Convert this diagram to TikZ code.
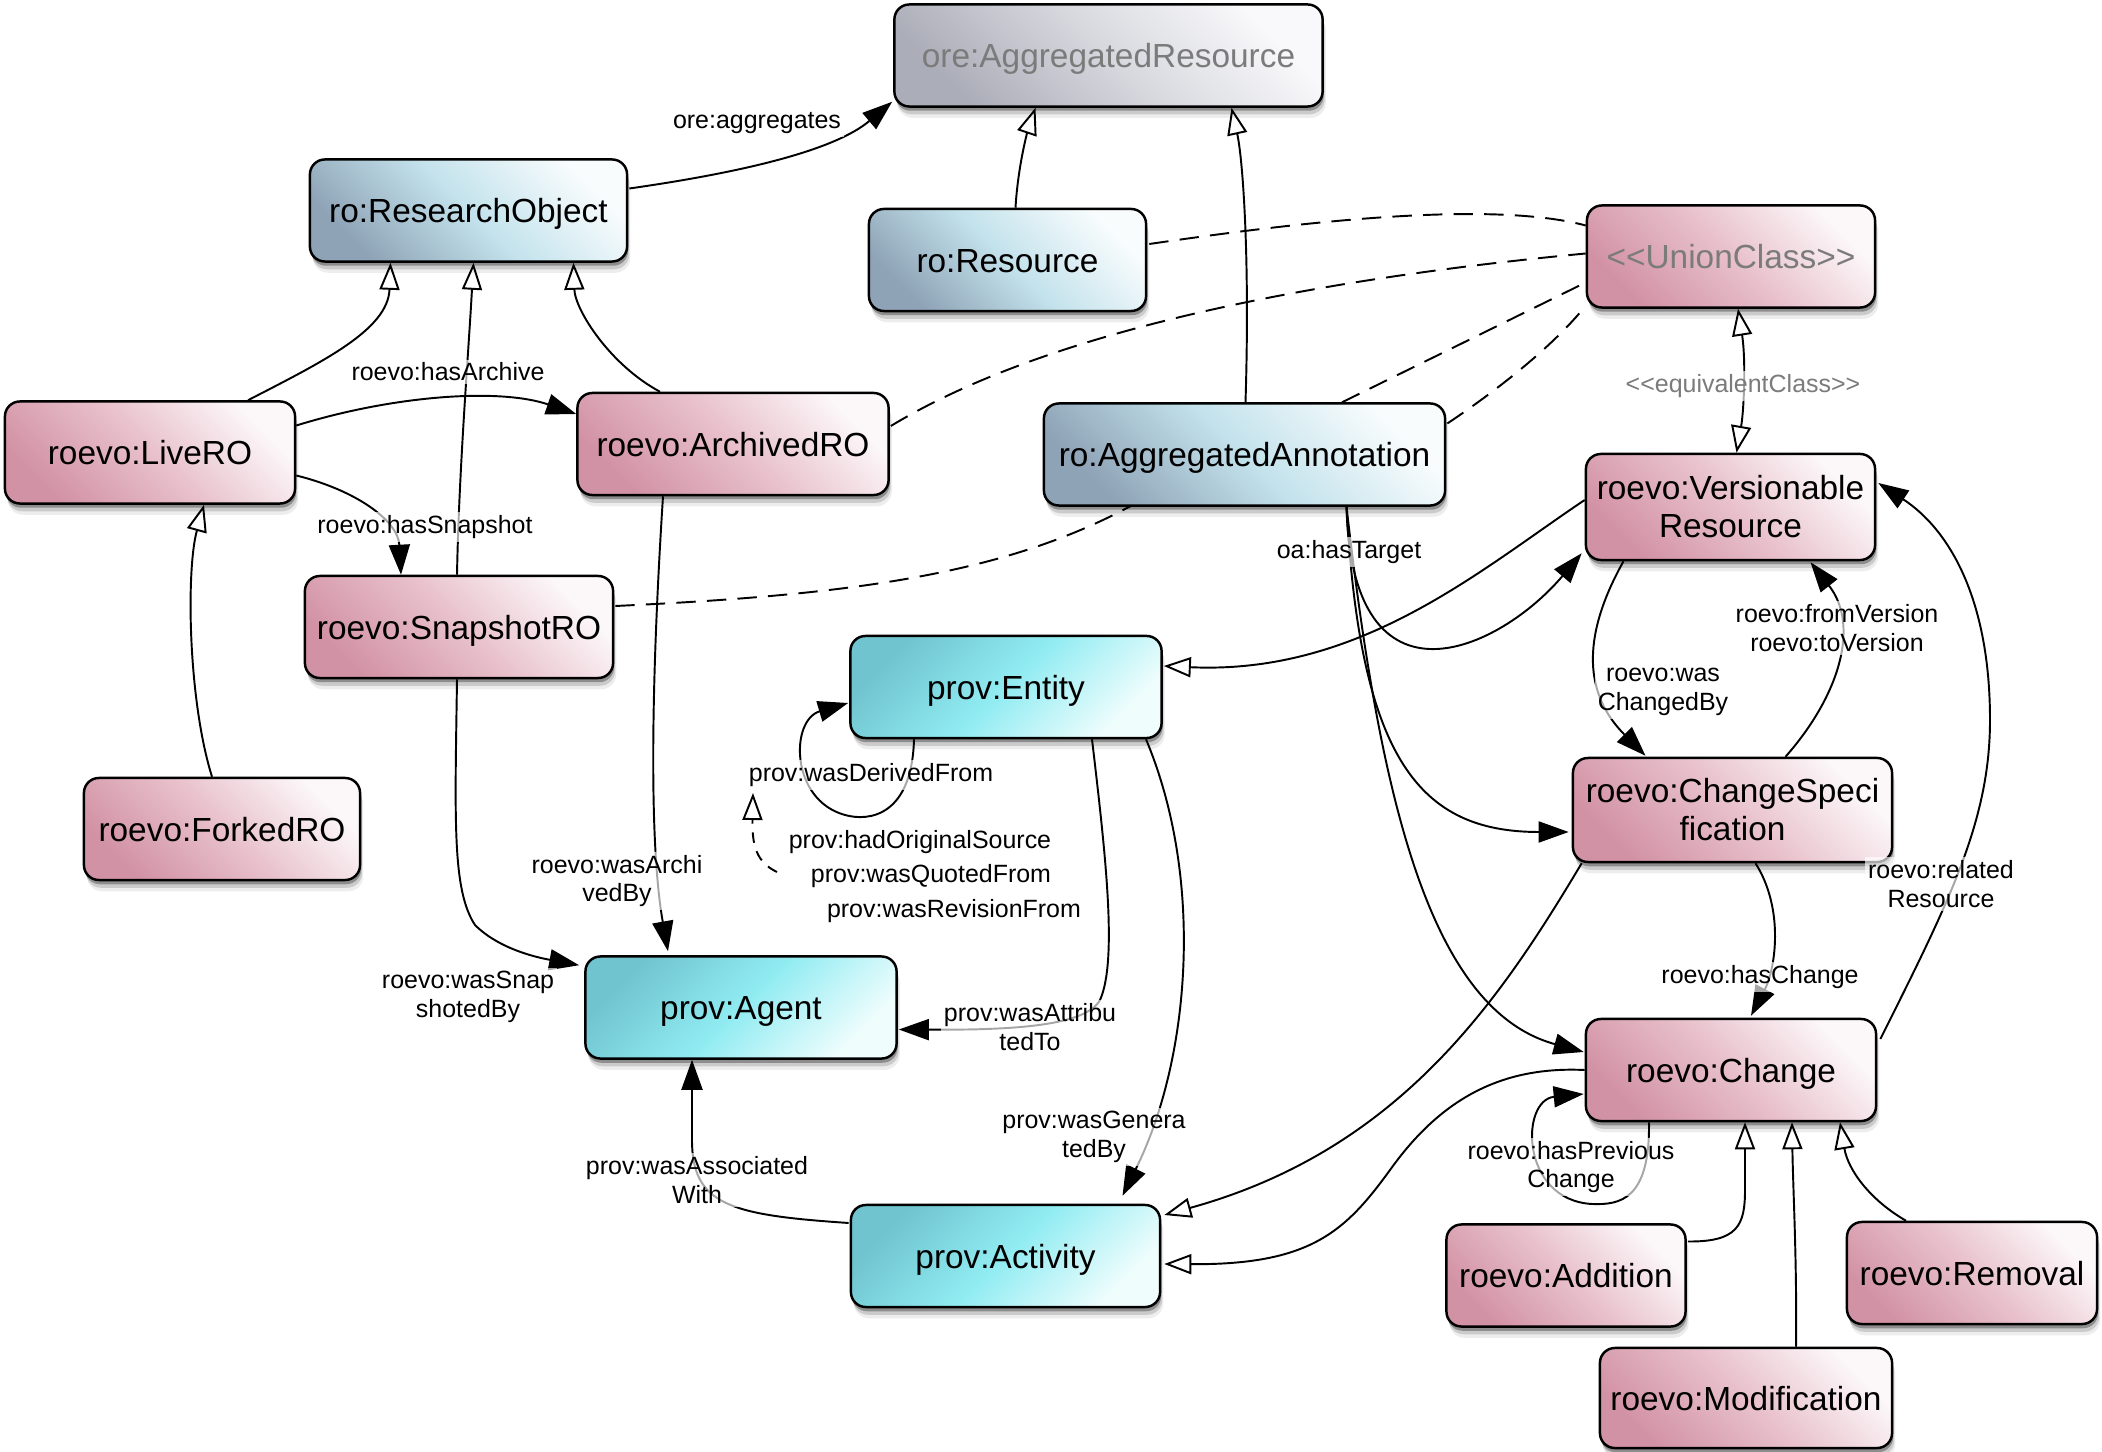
\documentclass[tikz,border=0pt]{standalone}
\usepackage{fontspec}
\setmainfont{Liberation Sans}
\usetikzlibrary{arrows.meta,calc,shadows}

% node fills
\definecolor{pinkD}{RGB}{210,146,165}
\definecolor{pinkM}{RGB}{232,192,204}
\definecolor{pinkL}{RGB}{252,248,249}
\definecolor{blueD}{RGB}{142,163,182}
\definecolor{blueM}{RGB}{195,226,236}
\definecolor{blueL}{RGB}{248,252,253}
\definecolor{grayD}{RGB}{171,173,184}
\definecolor{grayM}{RGB}{215,216,222}
\definecolor{grayL}{RGB}{249,249,251}
\definecolor{cyanD}{RGB}{112,196,207}
\definecolor{cyanM}{RGB}{145,236,242}
\definecolor{cyanL}{RGB}{240,253,253}
\definecolor{graytext}{RGB}{123,123,123}

\pgfdeclarelayer{back}
\pgfdeclarelayer{edges}
\pgfsetlayers{back,edges,main}

\begin{document}
\begin{tikzpicture}[x=0.01cm, y=-0.01cm,
  box/.style={draw=black, line width=0.7pt, rounded corners=0.15cm, inner sep=0pt,
    align=center, font=\fontsize{9.5pt}{10.8pt}\selectfont, minimum height=1.02cm,
    drop shadow={shadow xshift=0.3pt, shadow yshift=-1.2pt, opacity=0.30, fill=black},
    drop shadow={shadow xshift=0.6pt, shadow yshift=-2.2pt, opacity=0.14, fill=black},
    drop shadow={shadow xshift=0.9pt, shadow yshift=-3.2pt, opacity=0.07, fill=black}},
  oneline/.style={text height=0.86em, text depth=0.17em},
  pinkbox/.style={box, top color=pinkL, bottom color=pinkD, middle color=pinkM, shading angle=-45},
  bluebox/.style={box, oneline, top color=blueL, bottom color=blueD, middle color=blueM, shading angle=-45},
  graybox/.style={box, oneline, top color=grayL, bottom color=grayD, middle color=grayM, shading angle=-45, text=graytext},
  cyanbox/.style={box, oneline, top color=cyanD, bottom color=cyanL, middle color=cyanM, shading angle=45},
  edge/.style={draw=black, line width=0.55pt},
  arr/.style={edge, -{Triangle[length=0.3cm, width=0.21cm]}},
  gen/.style={edge, -{Triangle[length=0.27cm, width=0.2cm, fill=white]}},
  eqv/.style={edge, {Triangle[length=0.27cm, width=0.2cm, fill=white]}-{Triangle[length=0.27cm, width=0.2cm, fill=white]}},
  dashedge/.style={edge, dash pattern=on 5.5pt off 3.2pt},
  lbl/.style={font=\fontsize{7.1pt}{8.2pt}\selectfont, align=center, fill=white,
    fill opacity=0.65, text opacity=1, inner sep=0.03cm}
]
\begin{pgfonlayer}{back}
  \useasboundingbox[fill=white] (0,0) rectangle (2102,1452);
\end{pgfonlayer}

% ---- classes ----
\node[graybox, minimum width=4.28cm] (ore) at (1108.5,55.5) {ore:AggregatedResource};
\node[bluebox, minimum width=3.17cm] (ro) at (468.5,210.5) {ro:ResearchObject};
\node[bluebox, minimum width=2.77cm] (res) at (1007.5,260) {ro:Resource};
\node[pinkbox, oneline, minimum width=2.88cm, text=graytext] (union) at (1731,256.5) {<\kern0pt<UnionClass>\kern0pt>};
\node[pinkbox, oneline, minimum width=2.90cm] (live) at (150,452.5) {roevo:LiveRO};
\node[pinkbox, oneline, minimum width=3.11cm] (archived) at (733,444) {roevo:ArchivedRO};
\node[bluebox, minimum width=4.01cm] (annot) at (1244.5,454.5) {ro:AggregatedAnnotation};
\node[pinkbox, minimum width=2.89cm, minimum height=1.06cm] (versionable) at (1730.5,507) {roevo:Versionable\\Resource};
\node[pinkbox, oneline, minimum width=3.08cm] (snapshot) at (459,627) {roevo:SnapshotRO};
\node[cyanbox, minimum width=3.11cm] (entity) at (1006,687) {prov:Entity};
\node[pinkbox, oneline, minimum width=2.76cm] (forked) at (222,829) {roevo:ForkedRO};
\node[pinkbox, minimum width=3.19cm, minimum height=1.04cm] (changespec) at (1732.5,810) {roevo:ChangeSpeci\\fication};
\node[cyanbox, minimum width=3.11cm] (agent) at (741,1007.5) {prov:Agent};
\node[pinkbox, oneline, minimum width=2.90cm] (change) at (1731,1070) {roevo:Change};
\node[cyanbox, minimum width=3.09cm] (activity) at (1005.5,1256) {prov:Activity};
\node[pinkbox, oneline, minimum width=2.39cm] (addition) at (1566,1275.5) {roevo:Addition};
\node[pinkbox, oneline, minimum width=2.50cm] (removal) at (1972,1273) {roevo:Removal};
\node[pinkbox, oneline, minimum width=2.92cm, minimum height=1.00cm] (modification) at (1746,1398) {roevo:Modification};

\coordinate (subprops) at (777,872);
\coordinate (derivedlbl) at (753,793);

% ---- connectors ----
\begin{pgfonlayer}{edges}
  % aggregation
  \draw[arr] ($(ro.east)+(1,-22)$) .. controls (745,172) and (835,150) .. ($(ore.south west)+(-1,-6)$);
  % subclasses of ro:ResearchObject
  \draw[gen] ($(live.north)+(98,0)$) .. controls (322,362) and (388,330) .. ($(ro.south)+(-78,0)$);
  \draw[gen] ($(snapshot.north)+(-2,0)$) .. controls (459,470) and (468,360) .. ($(ro.south)+(5,0)$);
  \draw[gen] ($(archived.north)+(-73,0)$) .. controls (610,365) and (575,310) .. ($(ro.south)+(105,0)$);
  % live RO properties
  \draw[arr] ($(live.east)+(0,-27)$) .. controls (395,395) and (500,388) .. ($(archived.west)+(0,-30)$);
  \draw[arr] ($(live.east)+(0,23)$) .. controls (355,490) and (398,520) .. ($(snapshot.north)+(-58,0)$);
  \draw[gen] ($(forked.north)+(-10,0)$) .. controls (188,700) and (186,570) .. ($(live.south)+(54,0)$);
  % subclasses of ore:AggregatedResource
  \draw[gen] ($(res.north)+(8,0)$) .. controls (1018,165) and (1028,130) .. ($(ore.south)+(-73,0)$);
  \draw[gen] ($(annot.north)+(1,0)$) .. controls (1250,260) and (1243,160) .. ($(ore.south)+(123,0)$);
  % union members
  \draw[dashedge] ($(res.east)+(2,-16)$) .. controls (1300,222) and (1490,200) .. ($(union.west)+(0,-31)$);
  \draw[dashedge] ($(archived.east)+(1,-18)$) .. controls (1000,360) and (1200,290) .. ($(union.west)+(0,-3)$);
  \draw[dashedge] ($(snapshot.east)+(1,-21)$) .. controls (850,595) and (1000,575) .. (1127,508) -- ($(union.west)+(0,26)$);
  \draw[dashedge] ($(annot.east)+(1,-31)$) .. controls (1490,395) and (1550,350) .. ($(union.south west)+(0,-3)$);
  \draw[eqv] ($(union.south)+(7,0)$) .. controls (1746,360) and (1744,410) .. ($(versionable.north)+(6,0)$);
  % annotation targets
  \draw[arr] ($(annot.south)+(102,0)$) .. controls (1352,720) and (1500,650) .. ($(versionable.south west)+(-3,-8)$);
  \draw[arr] ($(annot.south)+(102,0)$) .. controls (1360,760) and (1420,832) .. ($(changespec.west)+(-3,22)$);
  \draw[arr] ($(annot.south)+(102,0)$) .. controls (1380,800) and (1430,1010) .. ($(change.west)+(-1,-18)$);
  \draw[gen] ($(versionable.west)+(0,-7)$) .. controls (1480,570) and (1360,675) .. ($(entity.east)+(1,-21)$);
  % prov
  \draw[arr] ($(entity.south)+(-92,0)$) .. controls (912,815) and (870,822) .. (845,815)
             .. controls (790,800) and (790,720) .. ($(entity.west)+(-1,16)$);
  \draw[gen, dash pattern=on 3pt off 2.5pt] (subprops) .. controls (756,862) and (752,845) .. (derivedlbl);
  \draw[arr] ($(entity.south)+(86,0)$) .. controls (1105,850) and (1118,960) .. (1100,1000)
             .. controls (1085,1028) and (1000,1030) .. ($(agent.east)+(1,22)$);
  \draw[arr] ($(entity.south)+(140,0)$) .. controls (1205,880) and (1190,1060) .. ($(activity.north)+(117,-8)$);
  \draw[arr] ($(snapshot.south)+(-2,0)$) .. controls (455,820) and (452,890) .. (475,925)
             .. controls (500,950) and (540,958) .. ($(agent.north west)+(-5,10)$);
  \draw[arr] ($(archived.south)+(-70,0)$) .. controls (650,700) and (650,850) .. ($(agent.north)+(-73,-4)$);
  \draw[arr] ($(activity.west)+(-1,-33)$) .. controls (730,1215) and (692,1205) .. (692,1140) -- ($(agent.south)+(-49,0)$);
  \draw[gen] ($(changespec.south west)+(10,0)$) .. controls (1500,1000) and (1400,1150) .. ($(activity.east)+(3,-41)$);
  \draw[gen] (change.west) .. controls (1500,1066) and (1440,1100) .. (1390,1170)
             .. controls (1345,1232) and (1310,1265) .. ($(activity.east)+(3,8)$);
  % versioning
  \draw[arr] ($(versionable.south)+(-107,0)$) .. controls (1585,630) and (1580,690) .. ($(changespec.north)+(-87,-1)$);
  \draw[arr] ($(changespec.north)+(53,0)$) .. controls (1840,695) and (1860,625) .. ($(versionable.south)+(80,1)$);
  \draw[arr] ($(changespec.south)+(23,0)$) .. controls (1785,910) and (1775,970) .. ($(change.north)+(20,-2)$);
  \draw[arr] ($(change.east)+(3,-31)$) .. controls (1950,900) and (1990,820) .. (1990,720)
             .. controls (1990,600) and (1950,530) .. ($(versionable.east)+(2,-24)$);
  \draw[arr] ($(change.south)+(-82,0)$) .. controls (1650,1200) and (1620,1205) .. (1592,1204)
             .. controls (1520,1200) and (1520,1100) .. ($(change.west)+(-1,24)$);
  % subclasses of roevo:Change
  \draw[gen] ($(addition.east)+(1,-34)$) .. controls (1738,1242) and (1745,1225) .. (1745,1190) -- ($(change.south)+(14,0)$);
  \draw[gen] ($(modification.north)+(50,0)$) .. controls (1797,1260) and (1793,1190) .. ($(change.south)+(61,0)$);
  \draw[gen] ($(removal.north)+(-66,0)$) .. controls (1870,1200) and (1848,1170) .. ($(change.south)+(109,0)$);
\end{pgfonlayer}

% ---- property labels ----
\node[lbl] (l-agg) at (757,123) {ore:aggregates};
\node[lbl] (l-arch) at (448,372) {roevo:hasArchive};
\node[lbl] (l-snap) at (425,527) {roevo:hasSnapshot};
\node[lbl, text=graytext] (l-eqv) at (1743,386) {<\kern0pt<equivalentClass>\kern0pt>};
\node[lbl] (l-target) at (1349,552) {oa:hasTarget};
\node[lbl] (l-version) at (1837,628) {roevo:fromVersion\\roevo:toVersion};
\node[lbl] (l-changed) at (1663,692) {roevo:was\\ChangedBy};
\node[lbl] (l-derived) at (871,775) {prov:wasDerivedFrom};
\node[lbl] (l-orig) at (920,842) {prov:hadOriginalSource};
\node[lbl] (l-quoted) at (931,876) {prov:wasQuotedFrom};
\node[lbl] (l-revision) at (954,911) {prov:wasRevisionFrom};
\node[lbl] (l-archby) at (617,881) {roevo:wasArchi\\vedBy};
\node[lbl] (l-snapby) at (468,997) {roevo:wasSnap\\shotedBy};
\node[lbl] (l-attr) at (1030,1027) {prov:wasAttribu\\tedTo};
\node[lbl] (l-gen) at (1094,1137) {prov:wasGenera\\tedBy};
\node[lbl] (l-assoc) at (697,1180) {prov:wasAssociated\\With};
\node[lbl] (l-related) at (1941,884) {roevo:related\\Resource};
\node[lbl] (l-haschange) at (1760,977) {roevo:hasChange};
\node[lbl] (l-prev) at (1571,1167) {roevo:hasPrevious\\Change};
\end{tikzpicture}
\end{document}
